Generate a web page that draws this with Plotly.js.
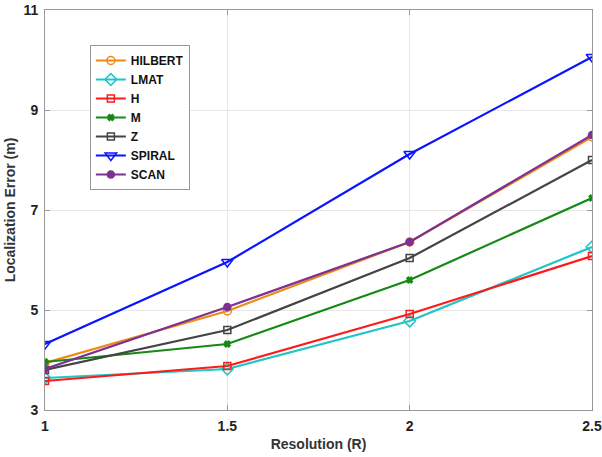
<!DOCTYPE html>
<html><head><meta charset="utf-8">
<script src="https://cdn.plot.ly/plotly-3.0.1.min.js"></script>
<style>body{margin:0;background:#fff}#c{width:602px;height:457px}</style>
</head><body><div id="c"></div>
<script>
const resolution = [1, 1.5, 2, 2.5];
const hilbert = [3.94, 4.98, 6.36, 8.46];
const lmat = [3.64, 3.82, 4.78, 6.26];
const hSeries = [3.58, 3.88, 4.92, 6.08];
const mSeries = [3.96, 4.32, 5.6, 7.24];
const zSeries = [3.8, 4.6, 6.04, 8.0];
const spiral = [4.32, 5.96, 8.12, 10.06];
const scan = [3.82, 5.06, 6.36, 8.5];

const series = [
  {name:'HILBERT', y:hilbert, color:'#EE8A12', symbol:'circle-open', size:8},
  {name:'LMAT', y:lmat, color:'#1FC4C4', symbol:'diamond-open', size:9},
  {name:'H', y:hSeries, color:'#FF1A1A', symbol:'square-open', size:7},
  {name:'M', y:mSeries, color:'#148A14', symbol:'x', size:5},
  {name:'Z', y:zSeries, color:'#444444', symbol:'square-open', size:7},
  {name:'SPIRAL', y:spiral, color:'#0A14FF', symbol:'triangle-down-open', size:10},
  {name:'SCAN', y:scan, color:'#7E3194', symbol:'circle', size:7}
];
const traces = series.map(s => ({
  x: resolution, y: s.y, name: s.name, type:'scatter', mode:'lines+markers',
  line:{color:s.color, width:2.2},
  marker:{color:s.color, symbol:s.symbol, size:s.size, line:{color:s.color, width:1.5}}
}));
const layout = {
  width:602, height:457,
  margin:{l:45, r:10, t:10, b:47},
  paper_bgcolor:'#fff', plot_bgcolor:'#fff',
  font:{family:'Liberation Sans, Arial, sans-serif', color:'#222'},
  xaxis:{range:[1,2.5], tickvals:[1,1.5,2,2.5], ticktext:['1','1.5','2','2.5'],
    showgrid:true, gridcolor:'#e6e6e6', zeroline:false,
    showline:true, linecolor:'#999', mirror:'ticks', ticks:'inside', ticklen:5, tickcolor:'#999',
    ticklabelstandoff:3,
    tickfont:{size:14, color:'#222', weight:'bold'},
    title:{text:'<b>Resolution (R)</b>', font:{size:14, color:'#333'}, standoff:6}},
  yaxis:{range:[3,11], tickvals:[3,5,7,9,11],
    showgrid:true, gridcolor:'#e6e6e6', zeroline:false,
    showline:true, linecolor:'#999', mirror:'ticks', ticks:'inside', ticklen:5, tickcolor:'#999',
    ticklabelstandoff:3,
    tickfont:{size:14, color:'#222', weight:'bold'},
    title:{text:'<b>Localization Error (m)</b>', font:{size:14, color:'#333'}, standoff:4}},
  legend:{x:0.082, y:0.9125, xanchor:'left', yanchor:'top',
    bgcolor:'#fff', bordercolor:'#999', borderwidth:1,
    font:{size:12, color:'#111', weight:'bold'}, tracegroupgap:0, itemwidth:30},
  showlegend:true
};
Plotly.newPlot('c', traces, layout, {displayModeBar:false, staticPlot:true});
</script></body></html>
